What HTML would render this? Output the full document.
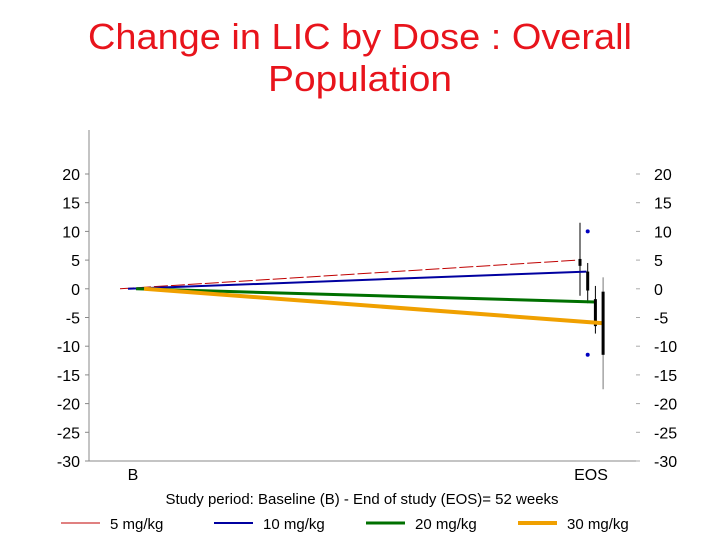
<!DOCTYPE html>
<html><head><meta charset="utf-8"><style>
body{margin:0;background:#fff;width:720px;height:540px;overflow:hidden;font-family:"Liberation Sans",sans-serif}
</style></head><body>
<svg width="720" height="540" font-family="Liberation Sans, sans-serif">
<text x="88" y="49" font-size="36" textLength="544" lengthAdjust="spacingAndGlyphs" fill="#e8141c">Change in LIC by Dose : Overall</text>
<text x="268" y="91" font-size="36" textLength="184" lengthAdjust="spacingAndGlyphs" fill="#e8141c">Population</text>
<g id="axes"></g>
<g id="marks"></g>
<text x="133" y="480" text-anchor="middle" font-size="16">B</text>
<text x="591" y="480" text-anchor="middle" font-size="16">EOS</text>
<text x="362" y="504" text-anchor="middle" font-size="15">Study period: Baseline (B) - End of study (EOS)= 52 weeks</text>
<g id="legend"></g>
</svg>
<script>
const ticks=[20,15,10,5,0,-5,-10,-15,-20,-25,-30];
const series=["5 mg/kg","10 mg/kg","20 mg/kg","30 mg/kg"];
const endValues=[5,3,-2.3,-6];
const colors=["#c00000","#0000a0","#007000","#f0a000"];
const widths=[1,2,3,4];
const boxQ1=[4,3,-1.8,-11.5];
const boxQ3=[5.2,-0.3,-6.5,-0.5];
const whiskLo=[-1.2,-2.5,-7.8,-17.5];
const whiskHi=[11.5,4.5,0.5,2];
const outliers=[[],[10,-11.5],[],[]];
const ns="http://www.w3.org/2000/svg";
const y=v=>288.8-v*5.74;
function mk(tag,attrs,parent){const e=document.createElementNS(ns,tag);for(const k in attrs)e.setAttribute(k,attrs[k]);parent.appendChild(e);return e;}
const ax=document.getElementById('axes'),mg=document.getElementById('marks'),lg=document.getElementById('legend');
let l=mk('line',{x1:89,y1:130,x2:89,y2:461,stroke:'#888'},ax);

l=mk('line',{x1:89,y1:461,x2:640,y2:461,stroke:'#888'},ax);

ticks.forEach(t=>{
 let tl=mk('line',{x1:85,y1:y(t),x2:89,y2:y(t),stroke:'#888'},ax);
 
 let tx=mk('text',{x:80,y:y(t)+6,'text-anchor':'end','font-size':16},ax);tx.textContent=t;
 
 let tr=mk('line',{x1:636,y1:y(t),x2:640,y2:y(t),stroke:'#aaa'},ax);
 
 let tx2=mk('text',{x:654,y:y(t)+6,'font-size':16},ax);tx2.textContent=t;
 
});
series.forEach((s,i)=>{
 const x0=120+i*8,x1=578+i*8.5;
 let p=mk('line',{x1:x0,y1:y(0),x2:x1,y2:y(endValues[i]),stroke:colors[i],'stroke-width':widths[i],'stroke-dasharray':i==0?'14,3':'none'},mg);
 
 const bx=580+i*7.7;
 let w=mk('line',{x1:bx,y1:y(whiskHi[i]),x2:bx,y2:y(whiskLo[i]),stroke:i==3?'#777':'#000','stroke-width':1},mg);
 
 let b=mk('rect',{x:bx-1.5,y:y(Math.max(boxQ1[i],boxQ3[i])),width:3,height:Math.abs(boxQ1[i]-boxQ3[i])*5.74,fill:'#000'},mg);
 
 outliers[i].forEach(o=>{let c=mk('circle',{cx:bx,cy:y(o),r:2,fill:'#0000c0'},mg);
  });
 const lx=[61,214,366,518][i];
 let ll=mk('line',{x1:lx,y1:523,x2:lx+39,y2:523,stroke:colors[i],'stroke-width':widths[i]},lg);
 
 let lt=mk('text',{x:lx+49,y:529,'font-size':15},lg);lt.textContent=s;
 
});
</script>
</body></html>
